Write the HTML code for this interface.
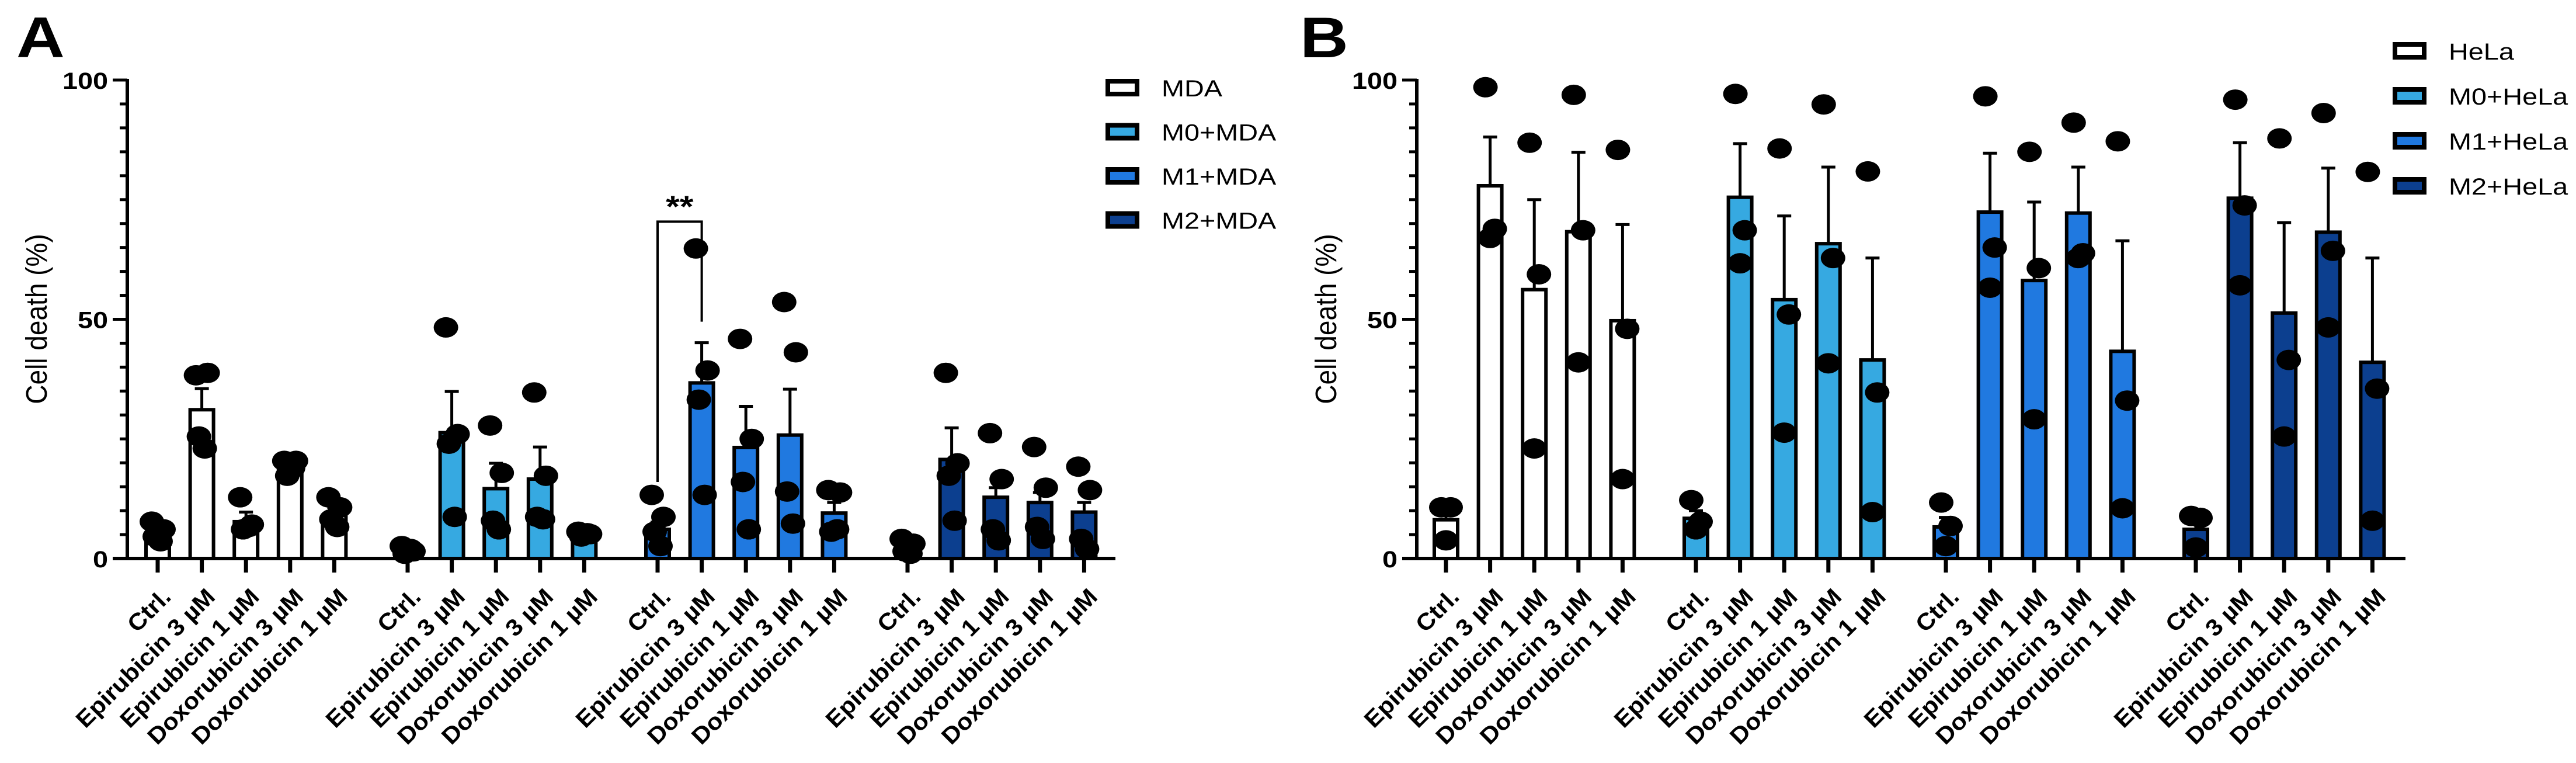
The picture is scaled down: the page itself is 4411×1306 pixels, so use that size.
<!DOCTYPE html>
<html><head><meta charset="utf-8"><style>
html,body{margin:0;padding:0;background:#fff;}
svg{display:block;}
text{font-family:"Liberation Sans",Arial,sans-serif;fill:#000;}
</style></head><body>
<svg id="fig" width="4411" height="1306" viewBox="0 0 4411 1306" xmlns="http://www.w3.org/2000/svg">
<rect x="0" y="0" width="4411" height="1306" fill="#fff"/>
</svg>
<script>
// ---- data ----
const categories = ["Ctrl.","Epirubicin 3 \u00b5M","Epirubicin 1 \u00b5M","Doxorubicin 3 \u00b5M","Doxorubicin 1 \u00b5M"];
const yTicks = [0,50,100];
const seriesA = ["MDA","M0+MDA","M1+MDA","M2+MDA"];
const seriesB = ["HeLa","M0+HeLa","M1+HeLa","M2+HeLa"];
const meansA = [[4.6,31.1,7.7,18.9,9.0],[1.5,26.3,14.6,16.6,5.1],[6.1,36.7,23.2,25.8,9.5],[2.0,20.7,12.8,11.7,9.7]];
const semA = [[1.2,4.4,2.0,1.5,1.7],[0.5,8.6,5.3,6.7,1.0],[1.5,8.4,8.6,9.6,2.2],[0.6,6.6,2.0,2.1,2.0]];
const pointsA = [
 [[7.7,6.1,4.6,3.6],[38.3,38.8,25.5,23],[12.8,7.1,6.1,6.6],[20.4,20.4,17.3,18.9],[12.8,10.7,8.2,6.6]],
 [[2.6,1.5,1.0,2.0],[48.3,26,24,8.7],[27.8,17.9,7.9,6.1],[34.7,17.3,8.7,8.2],[5.6,5.1,4.6,5.3]],
 [[13.3,8.7,5.6,2.6],[64.8,39.3,33.2,13.3],[45.9,25,16,6.1],[53.6,43.1,14,7.3],[14.3,13.8,5.6,6.1]],
 [[4.1,3.1,1.5,1.0],[38.8,19.9,17.3,7.9],[26.2,16.6,6.1,3.8],[23.3,14.8,6.6,4.1],[19.2,14.3,4.1,2.0]]];
const meansB = [[8.1,77.9,56.2,68.3,49.7],[8.4,75.5,54.1,65.8,41.5],[6.6,72.4,58.1,72.2,43.3],[6.1,75.3,51.3,68.2,41.0]];
const semB = [[1.5,10.2,18.8,16.6,20.1],[1.6,11.2,17.5,16.0,21.3],[2.0,12.3,16.4,9.6,23.1],[1.4,11.6,18.9,13.4,21.8]];
const pointsB = [
 [[10.7,10.7,3.8],[98.5,68.9,67],[86.9,59.4,23],[96.9,68.6,41],[85.4,48,16.6]],
 [[12.2,7.7,6.1],[97.1,68.6,61.7],[85.7,51,26.3],[94.9,62.8,40.8],[80.9,34.7,9.7]],
 [[11.7,6.8,2.6],[96.6,65,56.6],[85,60.7,29.1],[91.1,63.8,62.8],[87.2,33,10.5]],
 [[8.9,8.5,2.3],[95.9,73.8,57.1],[87.8,41.5,25.5],[93.1,64.3,48.3],[80.8,35.5,7.9]]];
const sigValues = [70.4, 49.5, 16];

// ---- style ----
const colors = ["#ffffff","#36a9e1","#2079e0","#0c3f8f"];
const NS = "http://www.w3.org/2000/svg";
const svg = document.getElementById("fig");
const Y0 = 956, PX = 8.19;
function yS(v){ return Y0 - v*PX; }
function mk(tag, attrs, parent){
  const e = document.createElementNS(NS, tag);
  for (const k in attrs) e.setAttribute(k, attrs[k]);
  (parent||svg).appendChild(e); return e;
}
const jitter4 = [-10,10,-5,5], jitter3 = [-8,8,0];

function panel(opt){
  const g = mk("g", {});
  
  
  const xS = (gi, ci) => opt.x0 + gi*428 + ci*75.6;
  const L = mk("text", {x: opt.letterX, y: 98, "font-size": 98, "font-weight": "bold", transform: `translate(${opt.letterX},0) scale(1.17,1) translate(${-opt.letterX},0)`}, g);
  L.textContent = opt.letter;
  
  
  const ty = mk("text", {"font-size": 46, "text-anchor": "middle", transform: `translate(${opt.axisX-138},546) scale(1.1,1) rotate(-90)`}, g);
  ty.textContent = "Cell death (%)";
  
  
  for (let v = 0; v <= 100; v += 5){
    const major = yTicks.indexOf(v) >= 0;
    const t = mk("line", {x1: opt.axisX - (major ? 25 : 13), x2: opt.axisX, y1: yS(v), y2: yS(v), stroke: "#000", "stroke-width": 5}, g);
    
    
  }
  yTicks.forEach(v => {
    const t = mk("text", {"font-size": 40, "font-weight": "bold", "text-anchor": "end", transform: `translate(${opt.axisX-33},${yS(v)+15}) scale(1.17,1)`}, g);
    t.textContent = v;
    
    
  });
  opt.means.forEach((row, gi) => {
    row.forEach((m, ci) => {
      const cx = xS(gi, ci);
      const top = yS(m);
      const r = mk("rect", {x: cx-20, y: top, width: 40, height: Math.max(0, Y0-top), fill: colors[gi], stroke: "#000", "stroke-width": 6}, g);
      
      
      const eTop = yS(m + opt.sem[gi][ci]);
      const e1 = mk("line", {x1: cx, x2: cx, y1: top, y2: eTop, stroke: "#000", "stroke-width": 5}, g);
      
      
      const e2 = mk("line", {x1: cx-12, x2: cx+12, y1: eTop, y2: eTop, stroke: "#000", "stroke-width": 5}, g);
      
      
    });
  });
  opt.points.forEach((row, gi) => {
    row.forEach((pts, ci) => {
      const cx = xS(gi, ci);
      const jit = pts.length === 4 ? jitter4 : jitter3;
      pts.forEach((p, pi) => {
        const d = mk("ellipse", {cx: cx + jit[pi], cy: yS(p), rx: 21, ry: 17.5, fill: "#000"}, g);
        
        
      });
    });
  });
  const ax = mk("line", {x1: opt.axisX-25, x2: opt.axisEnd, y1: Y0, y2: Y0, stroke: "#000", "stroke-width": 6}, g);
  
  
  const ay = mk("line", {x1: opt.axisX, x2: opt.axisX, y1: yS(100)-2, y2: Y0+3, stroke: "#000", "stroke-width": 6}, g);
  
  
  for (let gi = 0; gi < 4; gi++){
    categories.forEach((c, ci) => {
      const cx = xS(gi, ci);
      const t = mk("line", {x1: cx, x2: cx, y1: Y0, y2: 980, stroke: "#000", "stroke-width": 7}, g);
      
      
      const lb = mk("text", {"font-size": 40, "font-weight": "bold", "text-anchor": "end", transform: `translate(${cx+25},${1024}) rotate(-45) scale(1.07,1)`}, g);
      lb.textContent = c;
      
      
    });
  }
  opt.series.forEach((s, i) => {
    const cy = opt.legY0 + i*opt.legStep;
    const b = mk("rect", {x: opt.legX+4, y: cy-11, width: 50, height: 22, fill: colors[i], stroke: "#000", "stroke-width": 8}, g);
    
    
    const t = mk("text", {"font-size": 40, transform: `translate(${opt.legX+96},${cy+15}) scale(1.17,1)`}, g);
    t.textContent = s;
    
    
  });
  return xS;
}

const xA = panel({name: "panel-a", letter: "A", letterX: 28, axisX: 218, x0: 270, axisEnd: 1910,
  means: meansA, sem: semA, points: pointsA, series: seriesA, legX: 1893, legY0: 150, legStep: 75.5});
panel({name: "panel-b", letter: "B", letterX: 2226, axisX: 2426, x0: 2476, axisEnd: 4119,
  means: meansB, sem: semB, points: pointsB, series: seriesB, legX: 4097, legY0: 87, legStep: 77});

const bx1 = xA(2,0), bx2 = xA(2,1);
const br = mk("polyline", {points: `${bx1},${yS(sigValues[2])} ${bx1},${yS(sigValues[0])} ${bx2},${yS(sigValues[0])} ${bx2},${yS(sigValues[1])}`, fill: "none", stroke: "#000", "stroke-width": 4});


const st = mk("text", {"font-size": 52, "font-weight": "bold", "text-anchor": "middle", transform: `translate(${(bx1+bx2)/2},${yS(sigValues[0])-8}) scale(1.17,1)`});
st.textContent = "**";


</script>
</body></html>
